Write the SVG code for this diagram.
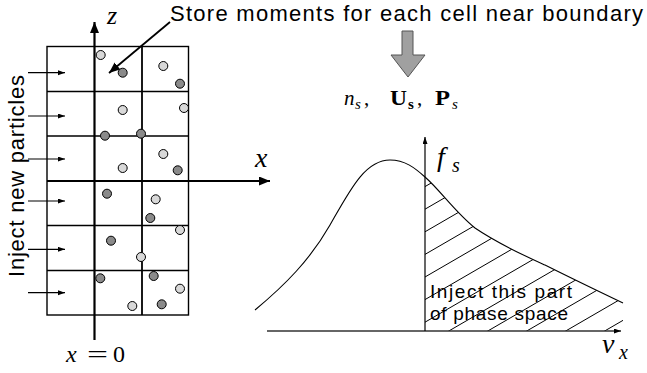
<svg xmlns="http://www.w3.org/2000/svg" width="647" height="373" viewBox="0 0 647 373">
<style>
.grid{fill:none;stroke:#000;stroke-width:1.4}
.lt{fill:#d8d8d8;stroke:#000;stroke-width:1}
.dk{fill:#8a8a8a;stroke:#000;stroke-width:1}
.thin{stroke:#000;stroke-width:1.2;fill:none}
.sans{font-family:"Liberation Sans","Open Sans",sans-serif;fill:#000}
.math{font-family:"Liberation Serif","DejaVu Serif",serif;fill:#000}
.it{font-style:italic}
.bf{font-weight:bold}
.hatch{stroke:#000;stroke-width:1}
</style>
<defs>
<marker id="bigArrow" markerUnits="userSpaceOnUse" markerWidth="12" markerHeight="10" refX="11" refY="4.5" orient="auto">
<path d="M0,0 L11,4.5 L0,9 Z" fill="#000"/>
</marker>
<marker id="smallArrow" markerUnits="userSpaceOnUse" markerWidth="8" markerHeight="6" refX="7" refY="2.5" orient="auto">
<path d="M0,0 L7,2.5 L0,5 Z" fill="#000"/>
</marker>
<clipPath id="hatchClip">
<path d="M425,177 C440,190 455,212 475,228 C500,245 525,256 545,265 C575,280 600,292 623,303 L623,331 L425,331 Z"/>
</clipPath>
</defs>

<g id="grid">
<rect class="grid" x="47" y="46.5" width="141.5" height="268.5"/>
<line class="grid" x1="47" y1="91.5" x2="188.5" y2="91.5"/>
<line class="grid" x1="47" y1="136" x2="188.5" y2="136"/>
<line class="grid" x1="47" y1="225.5" x2="188.5" y2="225.5"/>
<line class="grid" x1="47" y1="270.5" x2="188.5" y2="270.5"/>
<line x1="142" y1="46.5" x2="142" y2="315" stroke="#000" stroke-width="1.8"/>
</g>

<g id="particles">
<circle class="lt" cx="100.7" cy="55" r="4.5"/>
<circle class="lt" cx="163.3" cy="66" r="4.5"/>
<circle class="lt" cx="122.7" cy="110" r="4.5"/>
<circle class="lt" cx="184" cy="108" r="4.5"/>
<circle class="lt" cx="163.3" cy="154" r="4.5"/>
<circle class="lt" cx="122.7" cy="168" r="4.5"/>
<circle class="lt" cx="155.7" cy="199.3" r="4.5"/>
<circle class="lt" cx="180" cy="230" r="4.5"/>
<circle class="lt" cx="141" cy="257" r="4.5"/>
<circle class="lt" cx="180" cy="288.7" r="4.5"/>
<circle class="lt" cx="132.3" cy="306" r="4.5"/>
<circle class="dk" cx="122.7" cy="72.7" r="4.5"/>
<circle class="dk" cx="180" cy="83.7" r="4.5"/>
<circle class="dk" cx="105" cy="135.7" r="4.5"/>
<circle class="dk" cx="141" cy="133.7" r="4.5"/>
<circle class="dk" cx="177.7" cy="170.3" r="4.5"/>
<circle class="dk" cx="107" cy="193.7" r="4.5"/>
<circle class="dk" cx="150.3" cy="218" r="4.5"/>
<circle class="dk" cx="111" cy="240.7" r="4.5"/>
<circle class="dk" cx="100.3" cy="278.3" r="4.5"/>
<circle class="dk" cx="153.7" cy="276" r="4.5"/>
<circle class="dk" cx="161.7" cy="304.3" r="4.5"/>
</g>

<g id="connectors">
<line x1="94.5" y1="340" x2="94.5" y2="22" stroke="#000" stroke-width="2.2" marker-end="url(#bigArrow)"/>
<line x1="47" y1="181" x2="270" y2="181" stroke="#000" stroke-width="2" marker-end="url(#bigArrow)"/>
<line x1="170" y1="22" x2="109" y2="73" stroke="#000" stroke-width="1.8" marker-end="url(#bigArrow)"/>
<line class="thin" x1="28" y1="72.7" x2="65" y2="72.7" marker-end="url(#smallArrow)"/>
<line class="thin" x1="28" y1="116" x2="65" y2="116" marker-end="url(#smallArrow)"/>
<line class="thin" x1="28" y1="159" x2="65" y2="159" marker-end="url(#smallArrow)"/>
<line class="thin" x1="28" y1="201" x2="65" y2="201" marker-end="url(#smallArrow)"/>
<line class="thin" x1="28" y1="249.3" x2="65" y2="249.3" marker-end="url(#smallArrow)"/>
<line class="thin" x1="28" y1="292.7" x2="65" y2="292.7" marker-end="url(#smallArrow)"/>
<path id="blockArrow" d="M402,31 L413,31 L413,55 L425,55 L408,77 L391,55 L402,55 Z" fill="#a0a0a0" stroke="#555" stroke-width="1"/>
</g>

<g id="labels-left">
<text class="math it" x="107" y="24" font-size="26">z</text>
<text class="math it" x="255" y="167" font-size="28">x</text>
<text class="math" y="362" font-size="24"><tspan class="it" x="66">x</tspan><tspan x="87" textLength="21" lengthAdjust="spacingAndGlyphs">=</tspan><tspan x="113">0</tspan></text>
<text class="sans" x="170" y="21" font-size="22" textLength="473" lengthAdjust="spacing">Store moments for each cell near boundary</text>
<text class="sans" transform="translate(24,277) rotate(-90)" x="0" y="0" font-size="22" textLength="202" lengthAdjust="spacing">Inject new particles</text>
</g>

<g id="moments">
<text class="math it" x="344" y="105" font-size="21">n</text>
<text class="math it" x="355" y="109" font-size="15">s</text>
<text class="math" x="364" y="105" font-size="21">,</text>
<text class="math bf" x="390" y="105" font-size="21" textLength="17" lengthAdjust="spacingAndGlyphs">U</text>
<text class="math bf" x="408" y="109" font-size="15">s</text>
<text class="math" x="417" y="105" font-size="21">,</text>
<text class="math bf" x="435" y="105" font-size="21" textLength="15" lengthAdjust="spacingAndGlyphs">P</text>
<text class="math it" x="452" y="109" font-size="15">s</text>
</g>

<g id="distribution">
<g clip-path="url(#hatchClip)">
<line class="hatch" x1="380" y1="370.9" x2="650" y2="214.3"/>
<line class="hatch" x1="380" y1="348.3" x2="650" y2="191.7"/>
<line class="hatch" x1="380" y1="325.7" x2="650" y2="169.1"/>
<line class="hatch" x1="380" y1="303.1" x2="650" y2="146.5"/>
<line class="hatch" x1="380" y1="280.5" x2="650" y2="123.9"/>
<line class="hatch" x1="380" y1="257.9" x2="650" y2="101.3"/>
<line class="hatch" x1="380" y1="235.3" x2="650" y2="78.7"/>
<line class="hatch" x1="380" y1="212.7" x2="650" y2="56.1"/>
<line class="hatch" x1="380" y1="393.5" x2="650" y2="236.9"/>
<line class="hatch" x1="380" y1="416.1" x2="650" y2="259.5"/>
<line class="hatch" x1="380" y1="438.7" x2="650" y2="282.1"/>
<line class="hatch" x1="380" y1="461.3" x2="650" y2="304.7"/>
</g>
<path d="M255,310 C285,285 310,260 330,225 C350,190 365,160 390,160 C405,160 415,168 425,177 C440,190 455,212 475,228 C500,245 525,256 545,265 C575,280 600,292 623,303" fill="none" stroke="#000" stroke-width="1.1"/>
<line x1="267" y1="331" x2="621" y2="331" stroke="#333" stroke-width="1.4" marker-end="url(#smallArrow)"/>
<line x1="425" y1="331" x2="425" y2="137" stroke="#000" stroke-width="1.2" marker-end="url(#smallArrow)"/>
<text class="math it" x="437" y="166" font-size="28">f</text>
<text class="math it" x="452" y="172" font-size="20">s</text>
<text class="math it" x="602" y="353" font-size="28">v</text>
<text class="math it" x="619" y="359" font-size="20">x</text>
<text class="sans" x="430" y="298" font-size="19" textLength="142" lengthAdjust="spacing">Inject this part</text>
<text class="sans" x="430" y="320" font-size="19" textLength="138" lengthAdjust="spacing">of phase space</text>
</g>
</svg>
